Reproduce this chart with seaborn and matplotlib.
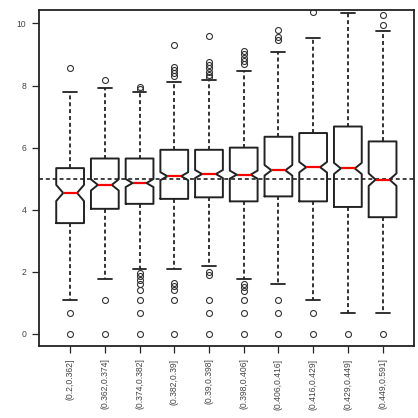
import matplotlib
matplotlib.use("Agg")
import matplotlib.pyplot as plt
import seaborn as sns

labels = ["(0.2,0.362]", "(0.362,0.374]", "(0.374,0.382]", "(0.382,0.39]",
          "(0.39,0.398]", "(0.398,0.406]", "(0.406,0.416]", "(0.416,0.429]",
          "(0.429,0.449]", "(0.449,0.591]"]
whislo = [1.10, 1.78, 2.09, 2.09, 2.20, 1.77, 1.61, 1.10, 0.69, 0.69]
q1 = [3.57, 4.03, 4.19, 4.35, 4.40, 4.27, 4.43, 4.27, 4.09, 3.76]
med = [4.54, 4.80, 4.86, 5.08, 5.15, 5.13, 5.27, 5.37, 5.33, 4.97]
q3 = [5.34, 5.65, 5.65, 5.93, 5.93, 6.00, 6.35, 6.47, 6.68, 6.20]
whishi = [7.80, 7.91, 7.80, 8.11, 8.19, 8.46, 9.07, 9.54, 10.33, 9.75]
notch = [0.26, 0.18, 0.13, 0.13, 0.13, 0.13, 0.17, 0.17, 0.18, 0.20]
outliers = [
    [8.55, 0.67, 0],
    [8.19, 1.10, 0],
    [7.95, 7.90, 1.97, 1.88, 1.74, 1.61, 1.42, 1.10, 0.67, 0],
    [9.29, 8.60, 8.50, 8.40, 8.30, 1.63, 1.55, 1.42, 1.10, 0],
    [9.60, 8.77, 8.65, 8.55, 8.45, 8.35, 8.26, 2.00, 1.90, 1.10, 0.67, 0],
    [9.10, 9.00, 8.90, 8.80, 8.70, 1.60, 1.50, 1.40, 1.10, 0.67, 0],
    [9.80, 9.55, 9.45, 1.10, 0.67, 0],
    [10.38, 0.67, 0],
    [0],
    [10.27, 9.94, 0],
]
ref_line = 5.0

sns.set_style("ticks")
plt.rcParams['font.family'] = ['Liberation Sans', 'DejaVu Sans']

stats = []
for i in range(len(labels)):
    stats.append({"label": labels[i], "whislo": whislo[i], "q1": q1[i], "med": med[i],
                  "q3": q3[i], "whishi": whishi[i], "fliers": outliers[i],
                  "cilo": med[i] - notch[i], "cihi": med[i] + notch[i]})

fig = plt.figure(figsize=(4.18, 4.18), dpi=100, facecolor='w')
ax = fig.add_axes([0.093, 0.172, 0.897, 0.804])

ax.bxp(stats, positions=range(1, len(labels) + 1), widths=0.8, shownotches=True,
       boxprops=dict(color="#222222", lw=1.4),
       medianprops=dict(color="red", lw=1.6),
       whiskerprops=dict(color="#222222", lw=1.3, ls=(0, (2.2, 1.6))),
       capprops=dict(color="#222222", lw=1.3),
       flierprops=dict(marker="o", markersize=4.3, markerfacecolor="none",
                       markeredgecolor="#333333", markeredgewidth=0.8))

ax.axhline(ref_line, color="#333333", lw=1.3, ls=(0, (2.2, 1.6)), zorder=0)

ax.set_xlim(0.1, 10.9)
ax.set_ylim(-0.39, 10.43)
ax.set_yticks([0, 2, 4, 6, 8, 10])
ax.set_xticks(range(1, len(labels) + 1))
ax.set_xticklabels(labels, rotation=90, fontsize=6.2, color="#444444")
ax.tick_params(axis="y", labelsize=6.2, labelcolor="#444444", length=5, width=0.9, pad=4)
ax.tick_params(axis="x", length=5, width=0.9, pad=4)
for s in ax.spines.values():
    s.set_linewidth(1.3)
    s.set_color("#222222")

fig.savefig("out.png", dpi=100, facecolor='w')
